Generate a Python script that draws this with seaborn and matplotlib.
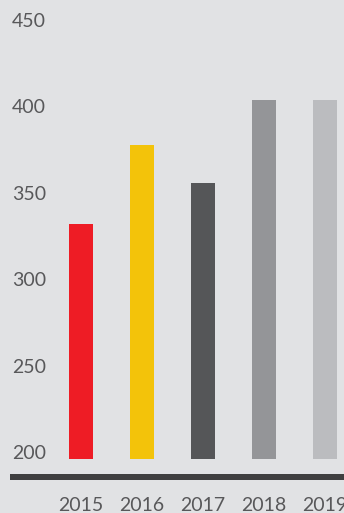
import matplotlib
matplotlib.use("Agg")
import matplotlib.pyplot as plt
import seaborn as sns
import pandas as pd

years = ["2015", "2016", "2017", "2018", "2019"]
values = [336, 382, 360, 408, 408]
colors = ["#ee1c25", "#f3c30a", "#555658", "#949598", "#bbbcbf"]
yticks = [200, 250, 300, 350, 400, 450]

BG = "#e1e2e4"
TXT = "#58585a"

sns.set_theme(style="white")
plt.rcParams["font.family"] = ["Lato", "DejaVu Sans"]

W, H, DPI = 344, 513, 100
fig = plt.figure(figsize=(W / DPI, H / DPI), dpi=DPI)
fig.patch.set_facecolor(BG)

# axes spans full width, from pixel y=459 (value 200) up to top
ax_bottom_px = 459
ax = fig.add_axes([0, (H - ax_bottom_px) / H, 1, ax_bottom_px / H])
ax.set_facecolor(BG)

df = pd.DataFrame({"year": years, "value": values})
px_per_cat = 61.0
bar_w = 24 / px_per_cat
sns.barplot(data=df, x="year", y="value", hue="year", palette=colors,
            width=bar_w, legend=False, ax=ax, saturation=1, linewidth=0,
            edgecolor="none")

first_center_px = 81
ax.set_xlim(-first_center_px / px_per_cat, (W - first_center_px) / px_per_cat)
px_per_unit = 1.728
ax.set_ylim(200, 200 + ax_bottom_px / px_per_unit)

for s in ax.spines.values():
    s.set_visible(False)

FS = 14
ax.set_xlabel("")
ax.set_ylabel("")
ax.set_yticks(yticks)
ax.set_yticklabels([str(v) for v in yticks])
ax.tick_params(axis="y", length=0, pad=-12 * 72 / DPI, labelsize=FS,
               labelcolor=TXT)
for lbl in ax.get_yticklabels():
    lbl.set_horizontalalignment("left")
    lbl.set_verticalalignment("baseline")
    lbl.set_color(TXT)

ax.tick_params(axis="x", length=0, pad=38 * 72 / DPI, labelsize=FS,
               labelcolor=TXT)
for lbl in ax.get_xticklabels():
    lbl.set_color(TXT)

# thick baseline below the plot area
ax.plot([10 / W, 1], [-(477 - ax_bottom_px) / ax_bottom_px] * 2,
        transform=ax.transAxes, color="#3f3f40", linewidth=6 * 72 / DPI,
        clip_on=False, solid_capstyle="butt")

fig.savefig("out.png", dpi=DPI, facecolor=BG)
